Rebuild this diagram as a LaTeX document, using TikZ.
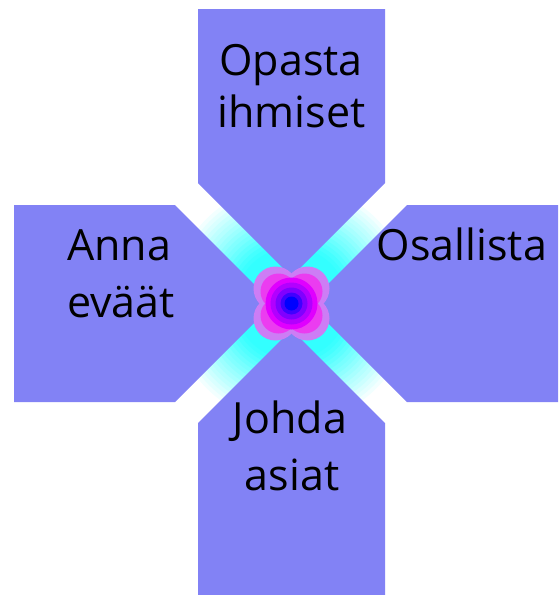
\documentclass[tikz,border=0pt]{standalone}
\usepackage{fontspec}
\setmainfont{Open Sans}
\usetikzlibrary{calc}
\definecolor{petal}{RGB}{130,130,245}
\definecolor{halo}{RGB}{205,125,245}
\definecolor{lobe}{RGB}{235,60,240}
\definecolor{cyanrgb}{RGB}{0,255,255}
\definecolor{magrgb}{RGB}{255,0,255}
\definecolor{bluergb}{RGB}{0,0,255}
\tikzset{
  petalshape/.style={fill=petal, draw=none},
  lbl/.style={anchor=base, inner sep=0pt, font=\fontsize{43}{52}\selectfont, text=black}
}
\begin{document}
\begin{tikzpicture}[x=1pt,y=-1pt]
\useasboundingbox (0,0) rectangle (558,595);
\coordinate (c) at (291.5,303.5);
% glow behind gaps (stepped radial fade cyan -> white)
\foreach \r in {120,116,...,28}{
  \pgfmathtruncatemacro{\pct}{min(80,max(0,(125-\r)*1.2))}
  \fill[cyanrgb!\pct!white] (c) circle[radius=\r];
}
% four shapes
\path[petalshape] (198,9) -- (385,9) -- (385,183) -- (291.5,276.5) -- (198,183) -- cycle;
\path[petalshape] (407,205) -- (558,205) -- (558,402) -- (407,402) -- (308.5,303.5) -- cycle;
\path[petalshape] (198,423) -- (291.5,329.5) -- (385,423) -- (385,595) -- (198,595) -- cycle;
\path[petalshape] (14,205) -- (175,205) -- (273.5,303.5) -- (175,402) -- (14,402) -- cycle;
% central blob
\foreach \dx/\dy in {1/1,1/-1,-1/1,-1/-1}{
  \fill[halo] ($(c)+(16*\dx,15*\dy)$) circle[radius=22];
}
\foreach \dx/\dy in {1/1,1/-1,-1/1,-1/-1}{
  \fill[lobe] ($(c)+(13*\dx,12*\dy)$) circle[radius=18];
}
\fill[magrgb!88!bluergb] (c) circle[radius=26];
\fill[magrgb!70!bluergb] (c) circle[radius=21];
\fill[magrgb!50!bluergb] (c) circle[radius=16];
\fill[bluergb!75!magrgb] (c) circle[radius=11];
\fill[bluergb] (c) circle[radius=7];
% labels
\node[lbl] (t1) at (291,75) {Opasta};
\node[lbl] (t2) at (291.5,127) {ihmiset};
\node[lbl] (l1) at (119,260) {Anna};
\node[lbl] (l2) at (121,317) {eväät};
\node[lbl] (r1) at (462,260) {Osallista};
\node[lbl] (b1) at (290,433) {Johda};
\node[lbl] (b2) at (292,490) {asiat};
\end{tikzpicture}
\end{document}
